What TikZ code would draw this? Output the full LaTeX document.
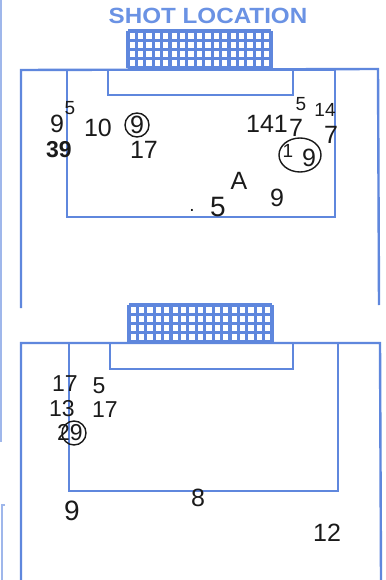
\documentclass[tikz,border=0pt]{standalone}
\usepackage{fontspec}
\setmainfont{Liberation Sans}
\definecolor{fieldblue}{HTML}{5F87DD}
\definecolor{titleblue}{HTML}{6A92E4}
\definecolor{ink}{HTML}{1A1A1A}
\begin{document}
\begin{tikzpicture}[x=1pt,y=-1pt,
  outerline/.style={draw=fieldblue,line width=2.4pt},
  innerline/.style={draw=fieldblue,line width=1.5pt},
  edgeline/.style={draw=fieldblue!60,line width=1.2pt},
  netline/.style={draw=fieldblue,line width=3.2pt},
  hand/.style={text=ink,inner sep=0pt,font=\fontsize{25}{25}\selectfont},
  midhand/.style={text=ink,inner sep=0pt,font=\fontsize{23}{23}\selectfont},
  bighand/.style={text=ink,inner sep=0pt,font=\fontsize{28}{28}\selectfont},
  smallhand/.style={text=ink,inner sep=0pt,font=\fontsize{19}{19}\selectfont},
  ring/.style={draw=ink,line width=1.4pt}]
\useasboundingbox[fill=white] (0,0) rectangle (385,580);

% title
\node[text=titleblue,font=\bfseries\fontsize{22}{22}\selectfont,xscale=1.1] (title) at (208,16) {SHOT LOCATION};

% stray page edge lines
\draw[edgeline] (1,0) -- (1,442);
\draw[edgeline] (5,505) -- (2,505) -- (2,580);

% ---------- top field ----------
\foreach \i in {0,...,17} \draw[netline] ({128+\i*8.4118},31) -- ++(0,37);
\foreach \j in {0,...,4} \draw[netline] (128,{31+\j*9.25}) -- ++(143,0);
\draw[outerline] (21,308) -- (21,70) -- (378,69) -- (379,305);
\draw[innerline] (67,70) rectangle (335,217);
\draw[innerline] (108,70) rectangle (293,95);

\node[hand] (t9a) at (57,124) {9};
\node[smallhand] (t5a) at (70,108) {5};
\node[hand,font=\bfseries\fontsize{23}{23}\selectfont] (t39) at (59,150) {39};
\node[hand] (t10) at (98,128) {10};
\node[hand] (t9b) at (137,125) {9};
\draw[ring] (137,125) circle (12);
\node[hand] (t17a) at (144,150) {17};

\node[hand] (t141) at (267,124) {141};
\node[smallhand] (t5b) at (301,104) {5};
\node[smallhand] (t14) at (325,110) {14};
\node[hand] (t7a) at (296,128) {7};
\node[hand] (t7b) at (331,135) {7};
\node[smallhand] (t1b) at (288,151) {1};
\node[hand] (t9c) at (309,158) {9};
\draw[ring] (300,155) ellipse (21 and 17);

\node[hand] (tA) at (239,181) {A};
\node[bighand] (t5c) at (218,207) {5};
\node[hand] (t9d) at (277,198) {9};
\node[smallhand] (tdot) at (192,210) {.};

% ---------- bottom field ----------
\foreach \i in {0,...,17} \draw[netline] ({129+\i*8.4118},305) -- ++(0,37);
\foreach \j in {0,...,4} \draw[netline] (129,{305+\j*9.25}) -- ++(143,0);
\draw[outerline] (21,580) -- (21,343) -- (380,343) -- (381,580);
\draw[innerline] (69,343) rectangle (338,491);
\draw[innerline] (110,343) rectangle (293,369);

\node[midhand] (b17a) at (65,384) {17};
\node[midhand] (b5) at (99,386) {5};
\node[midhand] (b13) at (62,409) {13};
\node[midhand] (b17b) at (105,410) {17};
\node[midhand] (b29) at (70,433) {29};
\draw[ring] (74,433) circle (12);

\node[bighand] (b9) at (72,511) {9};
\node[hand] (b8) at (198,498) {8};
\node[hand] (b12) at (327,533) {12};
\end{tikzpicture}
\end{document}
